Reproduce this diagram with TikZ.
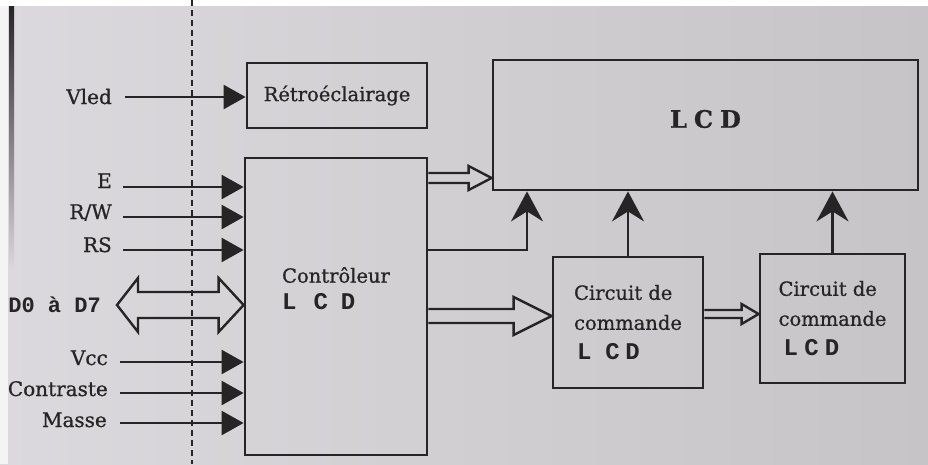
\documentclass[tikz,border=0pt]{standalone}
\usepackage{fontspec}
\setmainfont{DejaVu Serif}[FakeBold=0.8]
\newfontfamily\monof{Liberation Mono}
\usetikzlibrary{arrows.meta,calc}
\definecolor{ink}{HTML}{262424}
\definecolor{bgL}{HTML}{DCD9DE}
\definecolor{bgR}{HTML}{C6C4C6}
\begin{document}
\begin{tikzpicture}[x=1pt,y=-1pt,
  box/.style={draw=ink, line width=2.8pt, inner sep=0pt, text=ink,
              font=\fontsize{19.5}{30}\selectfont},
  lbl/.style={text=ink, inner sep=0pt, font=\fontsize{20}{24}\selectfont, anchor=base east},
  wire/.style={draw=ink, line width=2.4pt},
  inarrow/.style={wire, -{Triangle[length=22pt,width=24pt]}},
  uparrow/.style={wire, -{Stealth[length=30pt,width=32pt,inset=10pt]}},
  hollow/.style={draw=ink, line width=2.4pt, line join=miter},
  dashline/.style={draw=ink, line width=2.4pt, dash pattern=on 6pt off 4pt},
  monolcd/.style={font=\monof\bfseries\fontsize{22}{26}\selectfont}
]
% ---------- background (photographed page) ----------
\useasboundingbox (0,0) rectangle (928,464);
\shade[left color=bgL, right color=bgR] (0,6) rectangle (928,464);
\fill[white] (0,0) rectangle (928,6);
\fill[white!70!bgL] (0,6) rectangle (8,464);
\shade[top color=ink, bottom color=bgL] (9,6) rectangle (14,270);

% ---------- dashed separator ----------
\draw[dashline] (192,0) -- (192,464);

% ---------- boxes ----------
\node[box, minimum width=180pt, minimum height=65pt] (retro) at (337,95.5) {Rétroéclairage};
\node[box, minimum width=425pt, minimum height=130pt,
      label={[text=ink, font=\bfseries\fontsize{24}{28}\selectfont, yshift=6pt]center:L\hspace{7pt}C\hspace{7pt}D}]
      (lcd) at (705.5,125) {};
\node[box, minimum width=182pt, minimum height=297pt,
      label={[text=ink, align=left, font=\fontsize{19.5}{27}\selectfont, yshift=18pt]center:Contrôleur\\{\monof\bfseries\fontsize{24}{26}\selectfont L\hspace{17pt}C\hspace{13pt}D}}]
      (ctrl) at (336,306.5) {};
\node[box, minimum width=150pt, minimum height=131pt, align=left] (c1) at (628,322.5)
      {Circuit de\\commande\\{\monof\bfseries\fontsize{24}{26}\selectfont\hspace{3pt}L\hspace{14pt}C\hspace{5.5pt}D}};
\node[box, minimum width=145pt, minimum height=129pt, align=left] (c2) at (832.5,318.5)
      {Circuit de\\commande\\{\monof\bfseries\fontsize{24}{26}\selectfont\hspace{5pt}L\hspace{6.5pt}C\hspace{6pt}D}};

% ---------- input labels ----------
\node[lbl] (lV) at (112,104) {Vled};
\node[lbl] (lE) at (112,188) {E};
\node[lbl] (lRW) at (112,219) {R/W};
\node[lbl] (lRS) at (112,252) {RS};
\node[lbl] (lVcc) at (108,365) {Vcc};
\node[lbl] (lCo) at (108,396) {Contraste};
\node[lbl] (lMa) at (107,427) {Masse};
\node[text=ink, inner sep=0pt, anchor=east, monolcd] (lD) at (101,305) {D0 à D7};

% ---------- input wires ----------
\coordinate (iV) at (125,97);
\coordinate (iE) at (123,187);
\coordinate (iRW) at (123,217);
\coordinate (iRS) at (123,250);
\coordinate (iVcc) at (120,362);
\coordinate (iCo) at (120,393);
\coordinate (iMa) at (120,423);
\draw[inarrow] (iV) -- (iV -| retro.west);
\foreach \c in {iE,iRW,iRS,iVcc,iCo,iMa}
  \draw[inarrow] (\c) -- (\c -| ctrl.west);

% D0..D7 hollow double arrow
\coordinate (dL) at (117,305);
\coordinate (dR) at (dL -| ctrl.west);
\draw[hollow] (dL) -- ++(21,-27) -- ++(0,14) -- ($(dR)+(-25,-13)$) -- ++(0,-14) -- (dR)
   -- ++(-25,27) -- ++(0,-14) -- ($(dL)+(21,13)$) -- ++(0,14) -- cycle;

% ---------- controller -> LCD (thin hollow arrow) ----------
\coordinate (h1) at (ctrl.east |- 0,178);
\coordinate (h1e) at (h1 -| lcd.west);
\draw[hollow] ($(h1)+(0,-5)$) -- ($(h1e)+(-23,-5)$) -- ++(0,-7) -- (h1e) -- ++(-23,12) -- ++(0,-7) -- ($(h1)+(0,5)$);

% ---------- controller -> LCD (line with arrow) ----------
\coordinate (bend) at (527,250);
\draw[uparrow] (bend -| ctrl.east) -- (bend) -- (bend |- lcd.south);

% ---------- controller -> circuit 1 (big hollow arrow) ----------
\coordinate (h2) at (ctrl.east |- 0,316);
\coordinate (h2e) at (h2 -| c1.west);
\draw[hollow] ($(h2)+(0,-7)$) -- ($(h2e)+(-38,-7)$) -- ++(0,-12) -- (h2e) -- ++(-38,19) -- ++(0,-12) -- ($(h2)+(0,7)$);

% ---------- circuit 1 -> circuit 2 (small hollow arrow) ----------
\coordinate (h3) at (c1.east |- 0,314);
\coordinate (h3e) at (h3 -| c2.west);
\draw[hollow] ($(h3)+(0,-4)$) -- ($(h3e)+(-17,-4)$) -- ++(0,-6) -- (h3e) -- ++(-17,10) -- ++(0,-6) -- ($(h3)+(0,4)$);

% ---------- circuits -> LCD ----------
\draw[uparrow] (c1.north) -- (c1.north |- lcd.south);
\draw[uparrow] (c2.north) -- (c2.north |- lcd.south);
\end{tikzpicture}
\end{document}
